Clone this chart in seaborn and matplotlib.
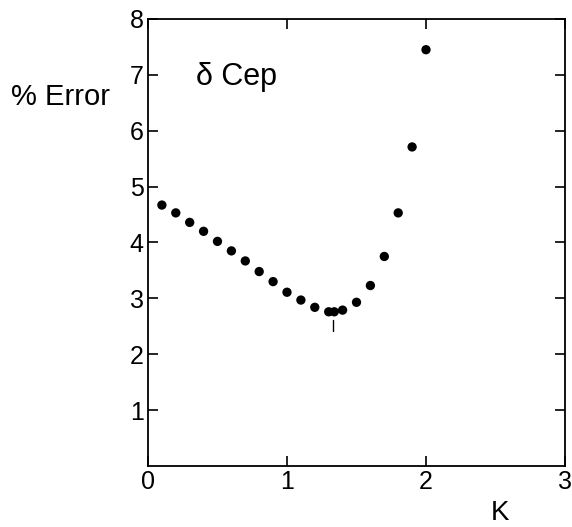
import matplotlib
matplotlib.use("Agg")
import matplotlib.pyplot as plt
import seaborn as sns
import pandas as pd

# values
k_values = [0.1, 0.2, 0.3, 0.4, 0.5, 0.6, 0.7, 0.8, 0.9, 1.0,
            1.1, 1.2, 1.3, 1.34, 1.4, 1.5, 1.6, 1.7, 1.8, 1.9, 2.0]
pct_error = [4.67, 4.53, 4.36, 4.20, 4.02, 3.85, 3.67, 3.48, 3.30, 3.11,
             2.97, 2.84, 2.76, 2.76, 2.79, 2.93, 3.23, 3.75, 4.53, 5.71, 7.45]
k_min = 1.33

df = pd.DataFrame({"K": k_values, "Error": pct_error})

sns.set_style("ticks")
plt.rcParams['font.family'] = ['Liberation Sans', 'DejaVu Sans']
plt.rcParams['text.color'] = 'black'

fig = plt.figure(figsize=(5.72, 5.27), dpi=100)
ax = fig.add_axes([0.2587, 0.1157, 0.7291, 0.8483])

sns.scatterplot(data=df, x="K", y="Error", color="black", s=45,
                edgecolor="none", ax=ax, legend=False)
ax.plot([k_min, k_min], [2.41, 2.62], color="black", lw=1)

ax.set_xlim(0, 3)
ax.set_ylim(0, 8)
ax.set_xticks([0, 1, 2, 3])
ax.set_yticks([1, 2, 3, 4, 5, 6, 7, 8])
ax.tick_params(direction="in", length=7, width=1.2, labelsize=18, pad=3,
               colors="black")
ax.tick_params(axis="x", top=True)
ax.tick_params(axis="y", right=True)
for sp in ax.spines.values():
    sp.set_linewidth(1.3)
    sp.set_color("black")
    sp.set_visible(True)

ax.set_xlabel("")
ax.set_ylabel("")
ax.text(-0.209, 0.826, "% Error", transform=ax.transAxes, fontsize=21,
        ha="center", va="center", color="black")
ax.text(0.844, -0.105, "K", transform=ax.transAxes, fontsize=20,
        ha="center", va="center", color="black")
ax.text(0.64, 6.96, "δ Cep", fontsize=22, ha="center", va="center",
        color="black")

fig.savefig("out.png", dpi=100)
